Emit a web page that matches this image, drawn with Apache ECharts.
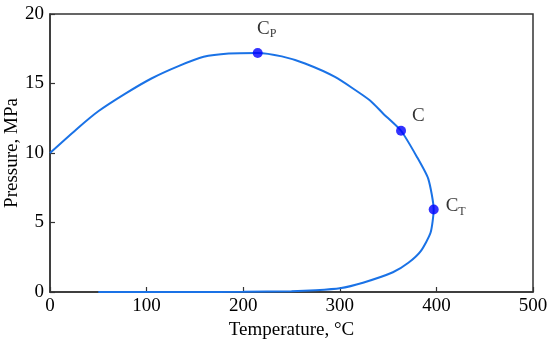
<!DOCTYPE html>
<html>
<head>
<meta charset="utf-8">
<script src="https://cdn.jsdelivr.net/npm/echarts@6/dist/echarts.min.js"></script>
<style>html,body{margin:0;padding:0;background:#fff}#c{width:550px;height:348px}</style>
</head>
<body>
<div id="c"></div>
<script>
// Phase envelope (temperature °C, pressure MPa)
var envelopeT = [0, 29, 50, 78, 105, 133, 159, 185, 215, 240, 264, 295, 331, 345, 363.4, 380, 391.6, 397.2, 394, 384, 371, 355, 324, 300, 275, 250, 200, 150, 100, 50];
var envelopeP = [10, 11.8, 13.0, 14.27, 15.36, 16.25, 16.92, 17.16, 17.2, 16.95, 16.44, 15.47, 13.8, 12.83, 11.6, 9.7, 8.14, 5.94, 4.28, 2.96, 2.1, 1.42, 0.67, 0.27, 0.13, 0.06, 0.01, 0, 0, 0];
// Special points
var pointNames = ['P', '', 'T'];
var pointT = [215, 363.4, 397.2];
var pointP = [17.2, 11.6, 5.94];
var xTicks = [0, 100, 200, 300, 400, 500];
var yTicks = [0, 5, 10, 15, 20];

var chart = echarts.init(document.getElementById('c'));
var lineData = envelopeT.map(function (t, i) { return [t, envelopeP[i]]; });
var font = 'Liberation Serif';
var rich = {
  b: { fontFamily: font, fontSize: 19, color: '#000', lineHeight: 22 },
  s: { fontFamily: font, fontSize: 12, color: '#000', lineHeight: 22, padding: [10, 0, 0, 0] }
};
var labelPos = [
  { position: 'top', distance: 8, offset: [9, 0] },
  { position: 'right', distance: 6, offset: [0, -15] },
  { position: 'right', distance: 7, offset: [0, -3] }
];
var ptData = pointT.map(function (t, i) {
  return {
    value: [t, pointP[i]],
    label: Object.assign({
      show: true,
      formatter: pointNames[i] ? '{b|C}{s|' + pointNames[i] + '}' : '{b|C}',
      rich: rich
    }, labelPos[i])
  };
});

var axisCommon = {
  axisLine: { show: true, onZero: false, lineStyle: { color: '#333', width: 1.5 } },
  axisTick: { show: true, inside: true, length: 5, lineStyle: { color: '#333', width: 1.2 } },
  splitLine: { show: false },
  nameMoveOverlap: false,
  axisLabel: { fontFamily: font, fontSize: 19, color: '#000' },
  nameTextStyle: { fontFamily: font, fontSize: 19, color: '#000' }
};

chart.setOption({
  animation: false,
  backgroundColor: '#fff',
  grid: { left: 50, right: 17, top: 14, bottom: 56, containLabel: false, outerBoundsMode: 'none', show: true, borderColor: '#333', borderWidth: 1.5 },
  xAxis: Object.assign({}, axisCommon, {
    type: 'value', min: 0, max: 500, interval: 100,
    name: 'Temperature, °C', nameLocation: 'middle', nameGap: 29,
    axisLabel: Object.assign({}, axisCommon.axisLabel, { margin: 5, formatter: function (v) { return xTicks.indexOf(v) >= 0 ? String(v) : ''; } })
  }),
  yAxis: Object.assign({}, axisCommon, {
    type: 'value', min: 0, max: 20, interval: 5,
    name: 'Pressure, MPa', nameLocation: 'middle', nameGap: 28,
    axisLabel: Object.assign({}, axisCommon.axisLabel, { margin: 6, formatter: function (v) { return yTicks.indexOf(v) >= 0 ? String(v) : ''; } })
  }),
  series: [
    {
      type: 'line', data: lineData, showSymbol: false, smooth: 0.2,
      lineStyle: { color: '#1a72e6', width: 2 }, z: 2
    },
    {
      type: 'scatter', data: ptData, symbolSize: 10,
      itemStyle: { color: '#0000ff' }, z: 3
    }
  ]
});
</script>
</body>
</html>
